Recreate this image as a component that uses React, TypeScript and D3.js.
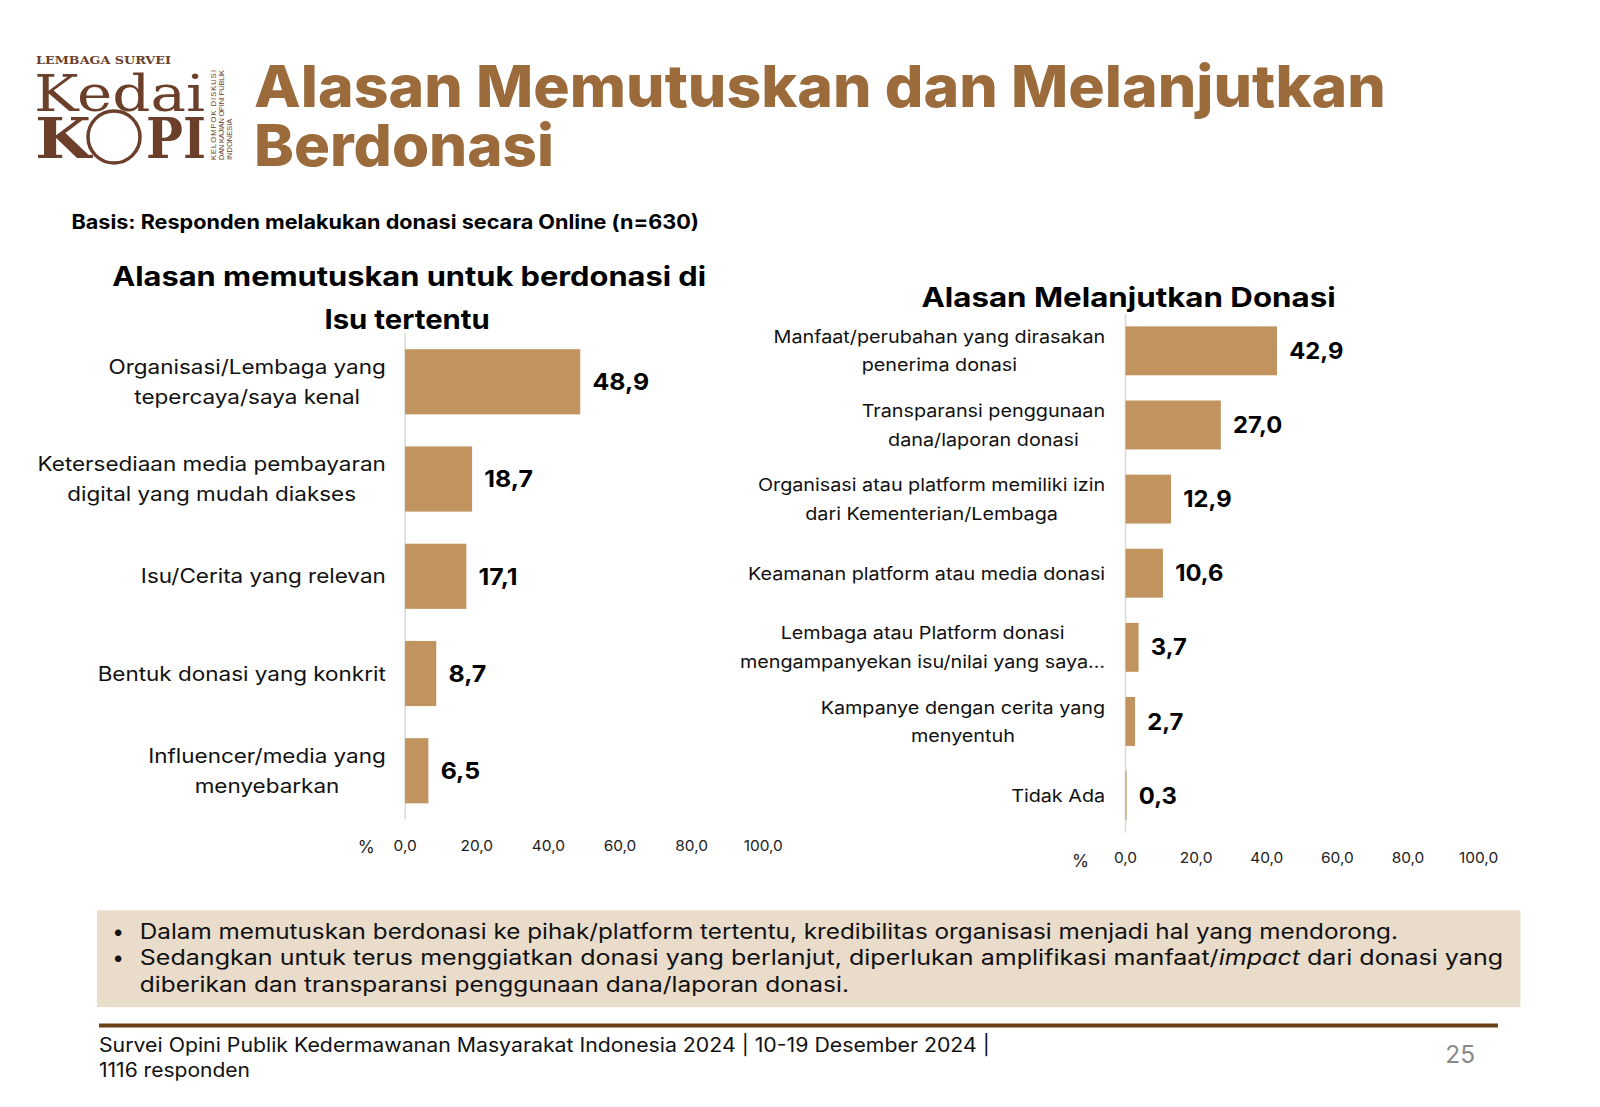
import React, { useEffect, useRef } from 'react';
import * as d3 from 'd3';

// left chart: reasons to decide
const leftLabels = [
  ['Organisasi/Lembaga yang', 'tepercaya/saya kenal'],
  ['Ketersediaan media pembayaran', 'digital yang mudah diakses'],
  ['Isu/Cerita yang relevan'],
  ['Bentuk donasi yang konkrit'],
  ['Influencer/media yang', 'menyebarkan'],
];
const leftValues = [48.9, 18.7, 17.1, 8.7, 6.5];

// right chart: reasons to continue
const rightLabels = [
  ['Manfaat/perubahan yang dirasakan', 'penerima donasi'],
  ['Transparansi penggunaan', 'dana/laporan donasi'],
  ['Organisasi atau platform memiliki izin', 'dari Kementerian/Lembaga'],
  ['Keamanan platform atau media donasi'],
  ['Lembaga atau Platform donasi', 'mengampanyekan isu/nilai yang saya…'],
  ['Kampanye dengan cerita yang', 'menyentuh'],
  ['Tidak Ada'],
];
const rightValues = [42.9, 27.0, 12.9, 10.6, 3.7, 2.7, 0.3];

const tickValues = [0, 20, 40, 60, 80, 100];

const FONT = "Inter, 'Open Sans', sans-serif";
const BAR = '#c1945f';
const BROWN = '#9b6b3c';
const K = 1600 / 1568;
const fmt = (v: number) => v.toFixed(1).replace('.', ',');

interface ChartCfg {
  labels: string[][];
  values: number[];
  x0: number;
  x1: number;
  y0: number;
  y1: number;
  padding: number;
  labelRight: number;
  labelSize: number;
  labelSX: number;
  lineGap: number;
  valueSize: number;
  tickY: number;
  pctX: number;
  pctY: number;
}

const drawChart = (g0: d3.Selection<SVGGElement, unknown, null, undefined>, c: ChartCfg) => {
  const g = g0.append('g');
  const x = d3.scaleLinear().domain([0, 100]).range([c.x0, c.x1]);
  const y = d3.scaleBand<number>()
    .domain(c.values.map((_, i) => i))
    .range([c.y0, c.y1])
    .paddingInner(c.padding)
    .paddingOuter(c.padding / 2);

  g.append('line')
    .attr('x1', x(0)).attr('x2', x(0))
    .attr('y1', c.y0).attr('y2', c.y1)
    .attr('stroke', '#d9d9d9').attr('stroke-width', 1.5);

  g.selectAll('.bar')
    .data(c.values)
    .enter()
    .append('rect')
    .attr('x', x(0))
    .attr('y', (_, i) => y(i) || 0)
    .attr('width', d => x(d) - x(0))
    .attr('height', y.bandwidth())
    .attr('fill', BAR);

  g.selectAll('.val')
    .data(c.values)
    .enter()
    .append('text')
    .attr('transform', (d, i) => `translate(${x(d) + 12},${(y(i) || 0) + y.bandwidth() / 2}) scale(1.06,1)`)
    .attr('dy', '0.36em')
    .attr('font-size', c.valueSize)
    .attr('font-weight', 700)
    .attr('fill', '#000')
    .text(d => fmt(d));

  // category labels: lines centred on each other, block right-aligned
  c.labels.forEach((lines, i) => {
    const cy = (y(i) || 0) + y.bandwidth() / 2;
    const t = g.append('text')
      .attr('font-size', c.labelSize)
      .attr('fill', '#111')
      .attr('text-anchor', 'middle');
    const spans = lines.map((ln, j) =>
      t.append('tspan')
        .attr('x', 0)
        .attr('y', cy + (j - (lines.length - 1) / 2) * c.lineGap)
        .attr('dy', '0.36em')
        .text(ln)
    );
    let maxW = 0;
    spans.forEach(s => { maxW = Math.max(maxW, (s.node() as SVGTextContentElement).getComputedTextLength()); });
    t.attr('transform', `translate(${c.labelRight - (maxW * c.labelSX) / 2},0) scale(${c.labelSX},1)`);
  });

  g.selectAll('.tick')
    .data(tickValues)
    .enter()
    .append('text')
    .attr('transform', d => `translate(${x(d)},${c.tickY}) scale(1.08,1)`)
    .attr('text-anchor', 'middle')
    .attr('font-size', 14)
    .attr('fill', '#222')
    .text(d => fmt(d));

  g.append('text')
    .attr('x', c.pctX).attr('y', c.pctY)
    .attr('text-anchor', 'middle')
    .attr('font-size', 17)
    .attr('fill', '#222')
    .text('%');
};

const App = () => {
  const ref = useRef<SVGGElement>(null);

  useEffect(() => {
    if (!ref.current) return;
    const root = d3.select(ref.current);
    root.selectAll('*').remove();

    drawChart(root, {
      labels: leftLabels, values: leftValues,
      x0: 397, x1: 748, y0: 326.5, y1: 803, padding: 0.33,
      labelRight: 378, labelSize: 19.5, labelSX: 1.13, lineGap: 30, valueSize: 23,
      tickY: 834, pctX: 359, pctY: 836,
    });
    drawChart(root, {
      labels: rightLabels, values: rightValues,
      x0: 1103, x1: 1449, y0: 307.5, y1: 816, padding: 0.34,
      labelRight: 1083, labelSize: 17.3, labelSX: 1.12, lineGap: 28, valueSize: 22,
      tickY: 846, pctX: 1059, pctY: 850,
    });
  }, []);

  return (
    <div style={{ position: 'absolute', left: 0, top: 0, width: 1600, height: 1107, background: '#fff' }}>
      <svg width={1600} height={1107} style={{ display: 'block' }} fontFamily={FONT}>
        {/* logo, in page pixels */}
        <g fill="#6b3f2a" fontFamily="'DejaVu Serif', 'Liberation Serif', serif">
          <text x={36} y={64} fontSize={11.5} fontWeight={700} textLength={135} lengthAdjust="spacingAndGlyphs">LEMBAGA SURVEI</text>
          <text x={34} y={111} fontSize={50} textLength={171} lengthAdjust="spacingAndGlyphs">Kedai</text>
          <text x={35} y={158} fontSize={56} fontWeight={700} textLength={56} lengthAdjust="spacingAndGlyphs">K</text>
          <text x={146} y={158} fontSize={56} fontWeight={700} textLength={60} lengthAdjust="spacingAndGlyphs">PI</text>
          <circle cx={114} cy={137} r={26} fill="none" stroke="#6b3f2a" strokeWidth={3.5} />
          <g transform="translate(216,160) rotate(-90)" fontFamily="'Liberation Sans', sans-serif" fontSize={7.5}>
            <text x={0} y={0} textLength={90}>KELOMPOK DISKUSI</text>
            <text x={0} y={8} textLength={90}>DAN KAJIAN OPINI PUBLIK</text>
            <text x={0} y={16}>INDONESIA</text>
          </g>
        </g>

        <g transform={`scale(${K})`}>
          {/* title */}
          <text x={249} y={105} fontSize={57} fontWeight={800} fill={BROWN} textLength={1109} lengthAdjust="spacingAndGlyphs">Alasan Memutuskan dan Melanjutkan</text>
          <text x={249} y={163} fontSize={57} fontWeight={800} fill={BROWN} textLength={294} lengthAdjust="spacingAndGlyphs">Berdonasi</text>

          <text x={70} y={224} fontSize={19.5} fontWeight={700} fill="#000" textLength={615} lengthAdjust="spacingAndGlyphs">Basis: Responden melakukan donasi secara Online (n=630)</text>

          <text x={110} y={280} fontSize={26} fontWeight={700} fill="#000" textLength={582} lengthAdjust="spacingAndGlyphs">Alasan memutuskan untuk berdonasi di</text>
          <text x={318} y={322} fontSize={26} fontWeight={700} fill="#000" textLength={162} lengthAdjust="spacingAndGlyphs">Isu tertentu</text>
          <text x={903} y={301} fontSize={26} fontWeight={700} fill="#000" textLength={406} lengthAdjust="spacingAndGlyphs">Alasan Melanjutkan Donasi</text>

          {/* conclusion box */}
          <rect x={95} y={892} width={1395} height={95} fill="#eadccb" />
          <g fontSize={20.5} fill="#111">
            <text x={110} y={920}>•</text>
            <text x={137} y={920} textLength={1233} lengthAdjust="spacingAndGlyphs">Dalam memutuskan berdonasi ke pihak/platform tertentu, kredibilitas organisasi menjadi hal yang mendorong.</text>
            <text x={110} y={946}>•</text>
            <text x={137} y={946} textLength={1336} lengthAdjust="spacingAndGlyphs">
              Sedangkan untuk terus menggiatkan donasi yang berlanjut, diperlukan amplifikasi manfaat/<tspan fontStyle="italic">impact</tspan> dari donasi yang
            </text>
            <text x={137} y={972} textLength={695} lengthAdjust="spacingAndGlyphs">diberikan dan transparansi penggunaan dana/laporan donasi.</text>
          </g>

          {/* footer */}
          <line x1={97} x2={1468} y1={1005} y2={1005} stroke="#6b4218" strokeWidth={4} />
          <text x={97} y={1031} fontSize={19} fill="#111" textLength={873} lengthAdjust="spacingAndGlyphs">Survei Opini Publik Kedermawanan Masyarakat Indonesia 2024 | 10-19 Desember 2024 |</text>
          <text x={97} y={1055} fontSize={19} fill="#111" textLength={148} lengthAdjust="spacingAndGlyphs">1116 responden</text>
          <text x={1431} y={1042} fontSize={24} fill="#8a8a8a" textAnchor="middle">25</text>

          <g ref={ref} fontFamily={FONT} />
        </g>
      </svg>
    </div>
  );
};

export default App;
